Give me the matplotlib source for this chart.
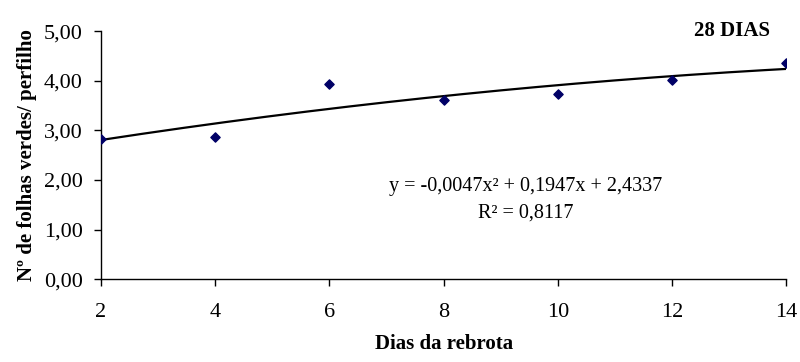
import numpy as np
import matplotlib.pyplot as plt

plt.rcParams['font.family'] = ['Liberation Serif', 'DejaVu Serif']

# dias da rebrota x folhas verdes
dias = [2, 4, 6, 8, 10, 12, 14]
folhas = [2.82, 2.86, 3.93, 3.61, 3.73, 4.01, 4.35]
coef = [-0.0047, 0.1947, 2.4337]  # linha de tendencia polinomial
yticks = [0, 1, 2, 3, 4, 5]

fig = plt.figure(figsize=(8, 3.62), dpi=100)
ax = fig.add_axes([0.126, 0.229, 0.857, 0.685])

xs = np.linspace(dias[0], dias[-1], 200)
ax.plot(xs, np.polyval(coef, xs), color='black', lw=1.6, zorder=2)
ax.scatter(dias, folhas, marker='D', s=22, color='#000066', zorder=3)

ax.set_xlim(2, 14)
ax.set_ylim(0, 5)
ax.set_xticks(dias)
ax.set_yticks(yticks)
ax.set_yticklabels([f'{v:.2f}'.replace('.', ',') for v in yticks])
ax.tick_params(direction='out', labelsize=16, length=5, width=1)
ax.tick_params(axis='x', pad=12)
ax.tick_params(axis='y', pad=8)
for s in ['top', 'right']:
    ax.spines[s].set_visible(False)
ax.spines['left'].set_linewidth(1)
ax.spines['bottom'].set_linewidth(1)

ax.set_xlabel('Dias da rebrota', fontsize=15, fontweight='bold', labelpad=9)
ax.set_ylabel('Nº de folhas verdes/ perfilho', fontsize=15, fontweight='bold', labelpad=5)

ax.text(0.62, 0.32, 'y = -0,0047x² + 0,1947x + 2,4337\nR² = 0,8117',
        transform=ax.transAxes, ha='center', va='center', fontsize=14.5,
        linespacing=1.55)
ax.text(0.92, 1.0, '28 DIAS', transform=ax.transAxes, ha='center', va='center',
        fontsize=15, fontweight='bold')

fig.savefig('out.png', dpi=100)
